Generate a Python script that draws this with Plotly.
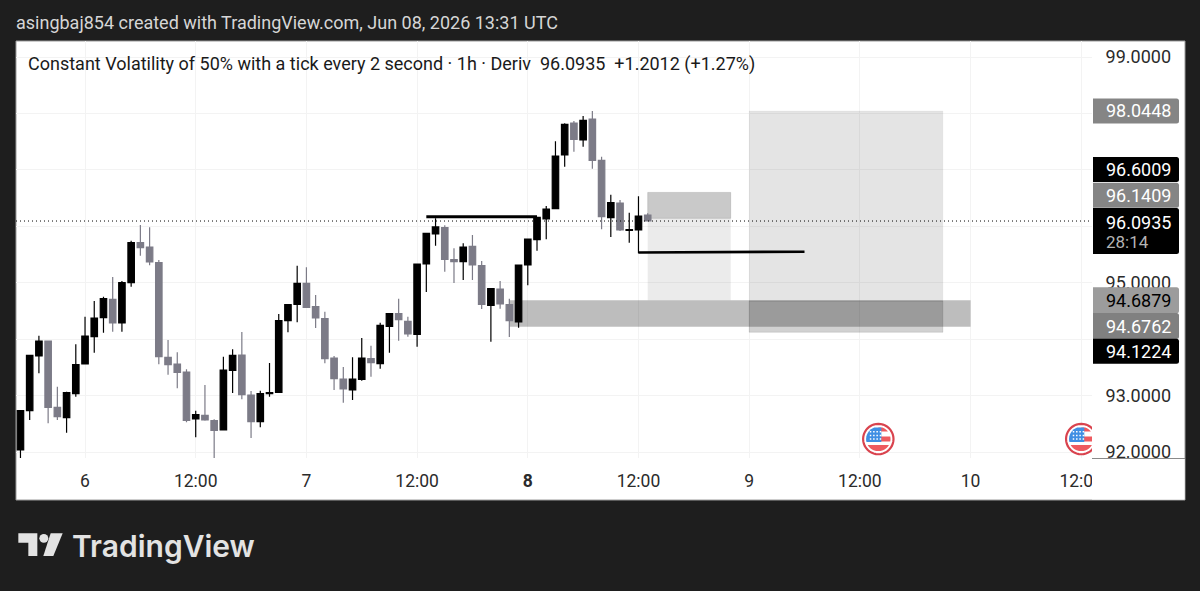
import math
import pandas as pd
import plotly.graph_objects as go

START = "2026-06-05 17:00"
opens = [92.036,92.733,93.702,93.967,92.792,92.609,93.034,93.560,94.044,94.381,94.706,94.286,95.001,95.710,95.633,95.355,93.678,93.560,93.418,92.585,92.650,92.556,92.390,93.447,93.719,93.010,92.538,93.034,93.058,94.328,94.617,94.989,94.576,94.363,93.666,93.294,93.099,93.288,93.654,93.566,94.227,94.452,94.316,94.085,95.332,95.863,95.976,95.409,95.373,95.645,95.302,94.599,94.889,94.611,94.304,95.314,95.763,96.129,96.312,97.263,97.830,97.529,97.901,97.169,96.153,96.413,95.928,95.934,96.200]
closes = [92.733,93.713,93.967,92.792,92.626,93.052,93.548,94.056,94.375,94.718,94.286,95.001,95.710,95.621,95.367,93.690,93.548,93.412,92.561,92.662,92.567,92.384,93.453,93.713,93.016,92.538,93.034,93.052,94.328,94.611,94.989,94.564,94.375,93.654,93.300,93.117,93.294,93.666,93.583,94.245,94.452,94.345,94.091,95.332,95.875,95.988,95.415,95.373,95.633,95.314,94.617,94.895,94.623,94.328,95.314,95.775,96.159,96.306,97.246,97.807,97.541,97.878,97.169,96.171,96.419,95.934,95.940,96.182,96.0935]
highs = [92.745,93.719,94.062,93.967,93.158,93.069,93.908,94.399,94.676,94.753,95.101,95.031,95.745,96.023,95.982,95.403,93.985,93.767,93.465,92.733,93.188,92.579,93.690,93.820,94.127,93.081,93.087,93.577,94.446,94.611,95.302,95.273,94.782,94.487,93.702,93.507,93.678,94.020,93.885,94.292,94.458,94.718,94.399,95.338,95.875,96.141,96.017,95.609,95.698,95.846,95.385,94.901,95.031,94.718,95.314,95.781,96.171,96.360,97.506,97.825,97.866,97.954,98.0448,97.234,96.560,96.466,96.241,96.531,96.230]
lows = [91.888,92.567,93.394,92.508,92.567,92.343,92.981,93.560,93.761,94.115,94.133,94.133,94.930,95.479,95.308,93.554,93.371,93.129,92.526,92.260,92.556,91.888,92.390,93.046,92.934,92.248,92.437,92.981,93.058,94.121,94.298,94.564,94.198,93.572,93.099,92.875,92.922,93.264,93.335,93.477,93.761,93.973,94.044,93.867,94.836,95.657,95.196,94.995,95.048,95.048,94.534,93.955,94.540,94.038,94.204,94.954,95.568,95.769,96.312,97.057,97.322,97.411,97.021,95.946,95.810,95.917,95.710,95.521,96.0935]
times = list(pd.date_range(START, periods=len(opens), freq="h"))

x_tick_vals = ["2026-06-06 00:00","2026-06-06 12:00","2026-06-07 00:00","2026-06-07 12:00","2026-06-08 00:00","2026-06-08 12:00","2026-06-09 00:00","2026-06-09 12:00","2026-06-10 00:00","2026-06-10 12:00"]
x_tick_text = ["6","12:00","7","12:00","<b>8</b>","12:00","9","12:00","10","12:00"]
y_tick_vals = [92,93,94,95,96,97,98,99]
y_tick_text = ["92.0000","93.0000","","95.0000","","","","99.0000"]

line1_x = ["2026-06-07 13:00","2026-06-08 01:00"]
line1_y = [96.17,96.17]
line2_x = ["2026-06-08 12:00","2026-06-09 06:00"]
line2_y = [95.535,95.55]

LAST = 96.0935
tags = [("98.0448",98.0448,0,"#858585","#ffffff",25),
        ("96.6009",96.6009,-23,"#000000","#ffffff",25),
        ("96.1409",96.1409,-23,"#858585","#ffffff",25),
        ("94.6879",94.6879,0,"#9c9c9c","#000000",26),
        ("94.6762",94.6762,25,"#808080","#ffffff",26),
        ("94.1224",94.1224,19,"#000000","#ffffff",25)]

PL, PR, PT, PB = 16, 1092, 41, 458
def fx(p): return (p-PL)/(PR-PL)
def fy(p): return (PB-p)/(PB-PT)

shapes = []
def pbox(x0,y0,x1,y1,fill,layer="below",line=None):
    shapes.append(dict(type="rect",xref="paper",yref="paper",x0=fx(x0),x1=fx(x1),y0=fy(y1),y1=fy(y0),
                       fillcolor=fill,layer=layer,line=line or dict(width=0)))

# white card
pbox(16,41,1185,500,"#ffffff",line=dict(width=1,color="#9a9a9a"))

def drect(x0,x1,y0,y1,fill,edge=0.0):
    line = dict(width=1,color=f"rgba(0,0,0,{edge})") if edge else dict(width=0)
    shapes.append(dict(type="rect",xref="x",yref="y",x0=x0,x1=x1,y0=y0,y1=y1,fillcolor=fill,layer="between",line=line))

# long position tools and zone
drect("2026-06-08 13:00","2026-06-08 22:00",96.1409,96.6009,"rgba(0,0,0,0.21)",0.12)
drect("2026-06-08 13:00","2026-06-08 22:00",94.6879,96.1409,"rgba(0,0,0,0.08)")
drect("2026-06-09 00:00","2026-06-09 21:00",94.6762,98.0448,"rgba(0,0,0,0.105)",0.03)
drect("2026-06-09 00:00","2026-06-09 21:00",94.1224,94.6762,"rgba(0,0,0,0.18)",0.10)
drect("2026-06-07 22:00","2026-06-10 00:00",94.22,94.6879,"rgba(0,0,0,0.26)")

# last price dotted line
shapes.append(dict(type="line",xref="paper",yref="y",x0=0,x1=1,y0=LAST,y1=LAST,layer="above",
                   line=dict(color="#000000",width=1,dash="1px,3px")))

# axis corner line + clipped date cover
pbox(1092,459,1184.5,499.5,"#ffffff",layer="above")
shapes.append(dict(type="line",xref="paper",yref="paper",x0=fx(1092),x1=fx(1185),y0=fy(458.5),y1=fy(458.5),
                   layer="above",line=dict(color="#8a8a8a",width=1)))

# price tags
annotations = []
def _tagpath(shift,h,w=86,r=2.5):
    t,b = -shift+h/2, -shift-h/2
    return f"M0,{t} L{w-r},{t} Q{w},{t} {w},{t-r} L{w},{b+r} Q{w},{b} {w-r},{b} L0,{b} Z"
def tag(val,shift,bg,h):
    shapes.append(dict(type="path",xref="paper",yref="y",xsizemode="pixel",ysizemode="pixel",
                       xanchor=fx(1093),yanchor=val,path=_tagpath(shift,h),fillcolor=bg,layer="above",line=dict(width=0)))
for txt,val,shift,bg,fg,h in tags:
    tag(val,shift,bg,h)
    annotations.append(dict(text=txt,xref="paper",yref="y",x=fx(1172.5),y=val,xanchor="right",yanchor="middle",
                            yshift=-shift,showarrow=False,font=dict(family="Roboto",size=18,color=fg)))
tag(LAST,10,"#000000",46)
annotations.append(dict(text="96.0935",xref="paper",yref="y",x=fx(1172.5),y=LAST,xanchor="right",yanchor="middle",
                        yshift=-1,showarrow=False,font=dict(family="Roboto",size=18,color="#ffffff")))
annotations.append(dict(text="28:14",xref="paper",yref="y",x=fx(1104),y=LAST,xanchor="left",yanchor="middle",
                        yshift=-21,showarrow=False,font=dict(family="Roboto",size=17,color="#b4b4b4")))

# event flag icons
def circle_path(r,n=40):
    pts = [(r*math.cos(2*math.pi*i/n),r*math.sin(2*math.pi*i/n)) for i in range(n)]
    return "M"+" L".join(f"{a:.2f},{b:.2f}" for a,b in pts)+" Z"
def band(y0,y1,x0,x1,r=12.2,n=8):
    left,right=[],[]
    for i in range(n+1):
        y=y0+(y1-y0)*i/n
        s=math.sqrt(max(r*r-y*y,0))
        left.append((max(x0,-s),y)); right.append((min(x1,s),y))
    pts=left+right[::-1]
    return "M"+" L".join(f"{a:.2f},{-b:.2f}" for a,b in pts)+" Z"
def icon(t):
    common=dict(xref="x",yref="y",xsizemode="pixel",ysizemode="pixel",xanchor=t,yanchor=92.23,layer="above",type="path")
    shapes.append(dict(path=circle_path(15.2),fillcolor="#ffffff",line=dict(color="#d9434e",width=2.2),**common))
    shapes.append(dict(path=band(-11.5,-7.5,0,13)+band(-2.5,2.5,0,13)+band(6,12,-13,13),fillcolor="#ee5a5f",line=dict(width=0),**common))
    shapes.append(dict(path=band(-11.5,3,-13,3),fillcolor="#3f8fe3",line=dict(width=0),**common))
    dots=""
    for i in range(4):
        for j in range(3):
            a=-8.5+i*3.3; b=-8+j*3.6
            dots+=f"M{a:.1f},{-b:.1f} L{a+1.5:.1f},{-b:.1f} L{a+1.5:.1f},{-b-1.5:.1f} L{a:.1f},{-b-1.5:.1f} Z "
    shapes.append(dict(path=dots,fillcolor="#ffffff",line=dict(width=0),**common))
icon("2026-06-09 14:00")
icon("2026-06-10 12:00")

# TradingView mark
def logo_path(points):
    return "M"+" L".join(f"{fx(a)},{fy(b)}" for a,b in points)+" Z"
def zl(a,b): return (a/3, 500+b/3)
shapes.append(dict(type="path",xref="paper",yref="paper",layer="above",fillcolor="#e3e3e3",line=dict(width=0),
    path=logo_path([zl(55,100),zl(112,100),zl(112,168),zl(85,168),zl(85,128),zl(55,128)])))
shapes.append(dict(type="path",xref="paper",yref="paper",layer="above",fillcolor="#e3e3e3",line=dict(width=0),
    path=logo_path([zl(152,100),zl(188,100),zl(160,168),zl(130,168)])))
shapes.append(dict(type="circle",xref="paper",yref="paper",layer="above",fillcolor="#e3e3e3",line=dict(width=0),
    x0=fx(118/3),x1=fx(145/3),y0=fy(500+128/3),y1=fy(500+102/3)))

annotations += [
    dict(text="asingbaj854 created with TradingView.com, Jun 08, 2026 13:31 UTC",xref="paper",yref="paper",
         x=fx(13.5),y=fy(22),xanchor="left",yanchor="middle",showarrow=False,
         font=dict(family="Roboto",size=18,color="#d6d6d6")),
    dict(text="Constant Volatility of 50% with a tick every 2 second · 1h · Deriv  96.0935  +1.2012 (+1.27%)",
         xref="paper",yref="paper",x=fx(25.5),y=fy(63.5),xanchor="left",yanchor="middle",showarrow=False,
         font=dict(family="Roboto",size=18,color="#1a1a1a")),
    dict(text="TradingView",xref="paper",yref="paper",x=fx(70),y=fy(546),xanchor="left",yanchor="middle",showarrow=False,
         font=dict(family="Inter",size=30,color="#e3e3e3",weight=600)),
]

fig = go.Figure()
fig.add_trace(go.Candlestick(x=times,open=opens,high=highs,low=lows,close=closes,
    increasing=dict(line=dict(color="#000000",width=1.2),fillcolor="#000000"),
    decreasing=dict(line=dict(color="#7c7b87",width=1.2),fillcolor="#7c7b87"),
    whiskerwidth=0,showlegend=False,hoverinfo="skip"))
for xs,ys,w in [(line1_x,line1_y,3),(line2_x,line2_y,2.6)]:
    fig.add_trace(go.Scatter(x=xs,y=ys,mode="lines",line=dict(color="#000000",width=w),showlegend=False,hoverinfo="skip"))

fig.update_layout(
    width=1200,height=591,
    margin=dict(l=PL,r=1200-PR,t=PT,b=591-PB,autoexpand=False),
    paper_bgcolor="#1e1e1e",plot_bgcolor="#ffffff",
    boxgap=0.3,boxgroupgap=0,
    shapes=shapes,annotations=annotations,
    xaxis=dict(type="date",range=["2026-06-05 16:31","2026-06-10 13:10"],rangeslider=dict(visible=False),
               tickmode="array",tickvals=x_tick_vals,ticktext=x_tick_text,
               showgrid=True,gridcolor="#f3f3f3",gridwidth=1,zeroline=False,showline=False,
               ticks="outside",ticklen=7,tickcolor="rgba(0,0,0,0)",
               tickfont=dict(family="Roboto",size=17.5,color="#2b2b2b")),
    yaxis=dict(side="right",range=[91.894,99.2835],tickmode="array",tickvals=y_tick_vals,ticktext=y_tick_text,
               showgrid=True,gridcolor="#f3f3f3",gridwidth=1,zeroline=False,showline=False,
               ticks="outside",ticklen=9,tickcolor="rgba(0,0,0,0)",
               tickfont=dict(family="Roboto",size=18,color="#2b2b2b")),
)
fig.write_html("out.html",config=dict(displayModeBar=False),
               post_script="document.body.style.margin='0';document.documentElement.style.background='#1e1e1e';")
